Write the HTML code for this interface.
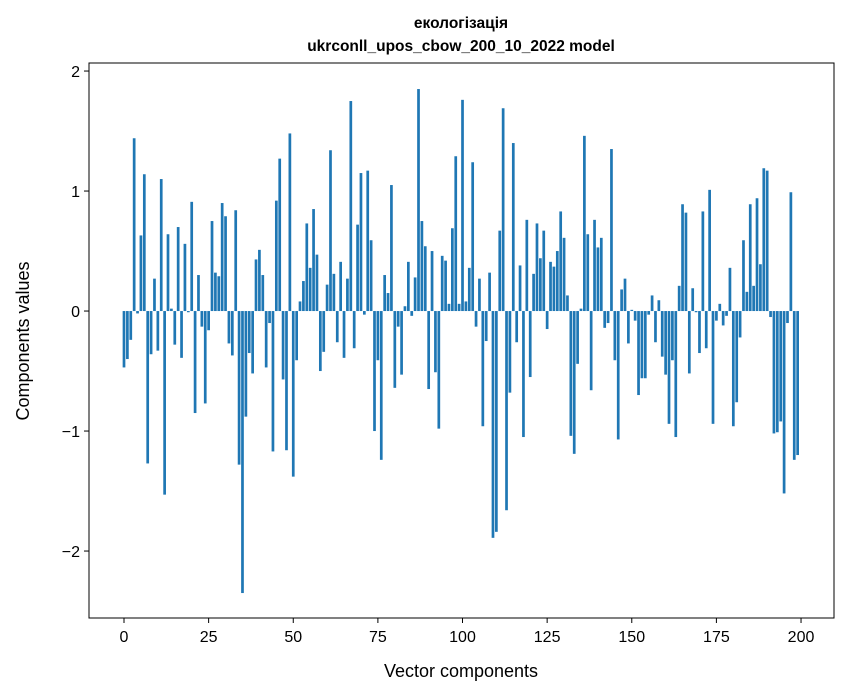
<!DOCTYPE html>
<html><head><meta charset="utf-8"><style>
body{margin:0;background:#fff;}
svg{display:block;font-family:"Liberation Sans","DejaVu Sans",sans-serif;}
</style></head><body>
<svg id="chart" width="847" height="696" viewBox="0 0 847 696" xmlns="http://www.w3.org/2000/svg">
<rect width="847" height="696" fill="#fff"/>
<text x="461" y="28" text-anchor="middle" font-size="15.5" font-weight="bold">екологізація</text>
<text x="461" y="51" text-anchor="middle" font-size="15.5" font-weight="bold">ukrconll_upos_cbow_200_10_2022 model</text>
<g id="bars"></g>
<g id="xticks"></g>
<g id="yticks"></g>
<rect x="89" y="63" width="745" height="555" fill="none" stroke="#000" stroke-width="1"/>
<text x="461" y="677" text-anchor="middle" font-size="18">Vector components</text>
<text transform="translate(29,341) rotate(-90)" text-anchor="middle" font-size="18">Components values</text>
</svg>
<script>
const values = [-0.47,-0.40,-0.24,1.44,-0.02,0.63,1.14,-1.27,-0.36,0.27,
-0.33,1.10,-1.53,0.64,0.02,-0.28,0.70,-0.39,0.56,-0.01,
0.91,-0.85,0.30,-0.13,-0.77,-0.16,0.75,0.32,0.29,0.90,
0.79,-0.27,-0.37,0.84,-1.28,-2.35,-0.88,-0.35,-0.52,0.43,
0.51,0.30,-0.47,-0.10,-1.17,0.92,1.27,-0.57,-1.16,1.48,
-1.38,-0.41,0.08,0.25,0.73,0.36,0.85,0.47,-0.50,-0.34,
0.22,1.34,0.31,-0.26,0.41,-0.39,0.27,1.75,-0.31,0.72,
1.15,-0.03,1.17,0.59,-1.00,-0.41,-1.24,0.30,0.15,1.05,
-0.64,-0.13,-0.53,0.04,0.41,-0.04,0.28,1.85,0.75,0.54,
-0.65,0.50,-0.51,-0.98,0.46,0.42,0.06,0.69,1.29,0.06,
1.76,0.08,0.36,1.24,-0.13,0.27,-0.96,-0.25,0.32,-1.89,
-1.84,0.67,1.69,-1.66,-0.68,1.40,-0.26,0.38,-1.05,0.76,
-0.55,0.31,0.73,0.44,0.67,-0.15,0.41,0.37,0.50,0.83,
0.61,0.13,-1.04,-1.19,-0.44,0.02,1.46,0.64,-0.66,0.76,
0.53,0.61,-0.14,-0.10,1.35,-0.41,-1.07,0.18,0.27,-0.27,
0.01,-0.08,-0.70,-0.56,-0.56,-0.03,0.13,-0.26,0.09,-0.38,
-0.53,-0.94,-0.41,-1.05,0.21,0.89,0.82,-0.52,0.19,-0.01,
-0.35,0.83,-0.31,1.01,-0.94,-0.08,0.06,-0.12,-0.04,0.36,
-0.96,-0.76,-0.22,0.59,0.16,0.89,0.21,0.94,0.39,1.19,
1.17,-0.05,-1.02,-1.01,-0.92,-1.52,-0.10,0.99,-1.24,-1.20];
const xTicks = [0,25,50,75,100,125,150,175,200];
const yTicks = [-2,-1,0,1,2];
const yTickLabels = ["\u22122","\u22121","0","1","2"];

const NS="http://www.w3.org/2000/svg";
const X0=89,X1=834,Y0=63,Y1=618;
const xmin=-10.34,xmax=209.74,ymin=-2.558,ymax=2.067;
function xs(v){return X0+(v-xmin)/(xmax-xmin)*(X1-X0);}
function ys(v){return Y1-(v-ymin)/(ymax-ymin)*(Y1-Y0);}
const bars=document.getElementById('bars');
values.forEach((v,i)=>{
  const r=document.createElementNS(NS,'rect');
  const xa=xs(i-0.4),xb=xs(i+0.4);
  r.setAttribute('x',xa);r.setAttribute('width',xb-xa);
  r.setAttribute('y',Math.min(ys(0),ys(v)));
  r.setAttribute('height',Math.abs(ys(v)-ys(0)));
  r.setAttribute('fill','#1f77b4');
  
  
  bars.appendChild(r);
});
const xg=document.getElementById('xticks');
xTicks.forEach(t=>{
  const l=document.createElementNS(NS,'line');
  l.setAttribute('x1',xs(t));l.setAttribute('x2',xs(t));
  l.setAttribute('y1',Y1);l.setAttribute('y2',Y1+5);l.setAttribute('stroke','#000');
  
  
  xg.appendChild(l);
  const tx=document.createElementNS(NS,'text');
  tx.setAttribute('x',xs(t));tx.setAttribute('y',Y1+24);
  tx.setAttribute('text-anchor','middle');tx.setAttribute('font-size','16');
  tx.textContent=t;
  
  
  xg.appendChild(tx);
});
const yg=document.getElementById('yticks');
yTicks.forEach((t,i)=>{
  const l=document.createElementNS(NS,'line');
  l.setAttribute('x1',X0-5);l.setAttribute('x2',X0);
  l.setAttribute('y1',ys(t));l.setAttribute('y2',ys(t));l.setAttribute('stroke','#000');
  
  
  yg.appendChild(l);
  const tx=document.createElementNS(NS,'text');
  tx.setAttribute('x',X0-9);tx.setAttribute('y',ys(t)+6);
  tx.setAttribute('text-anchor','end');tx.setAttribute('font-size','16');
  tx.textContent=yTickLabels[i];
  
  
  yg.appendChild(tx);
});
</script>
</body></html>
